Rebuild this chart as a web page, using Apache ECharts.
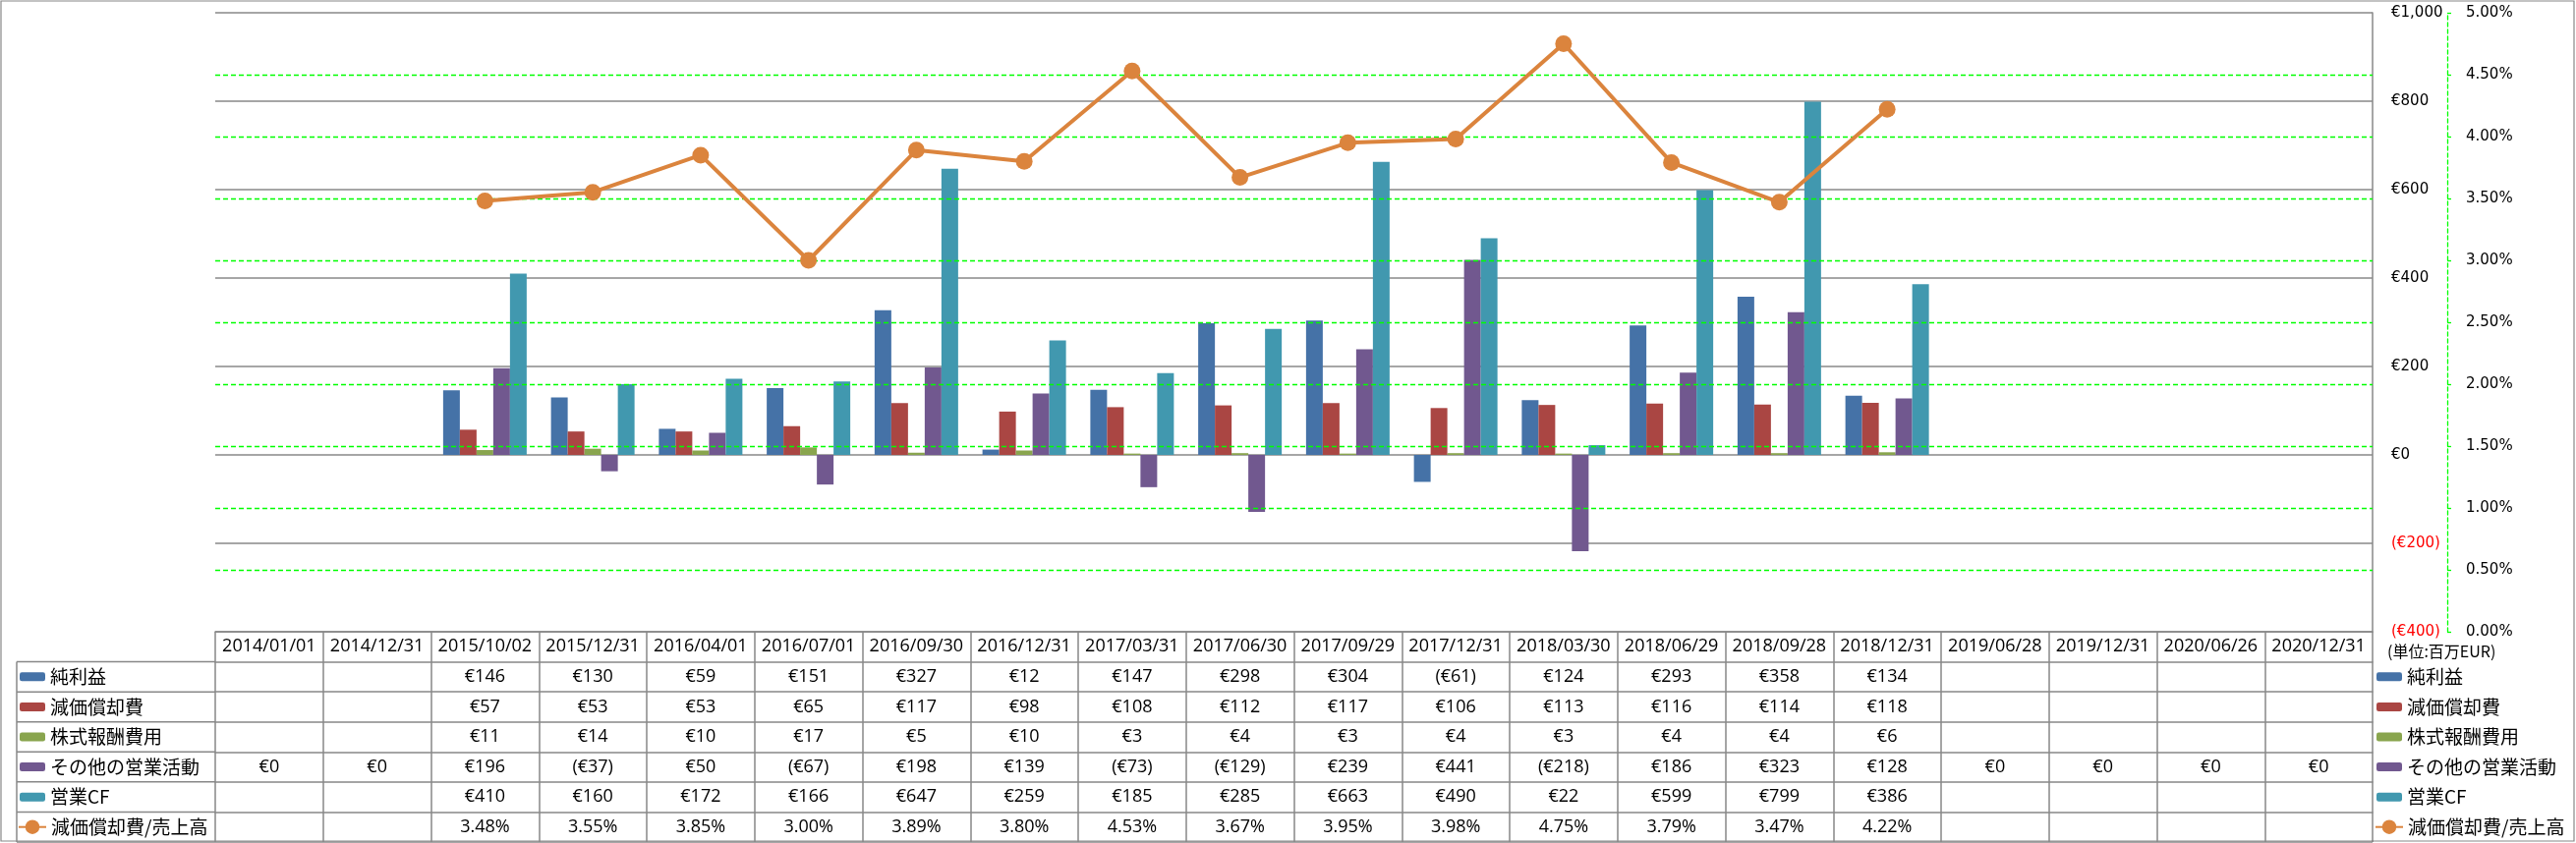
<!DOCTYPE html>
<html>
<head>
<meta charset="utf-8">
<script src="https://cdn.jsdelivr.net/npm/echarts@6/dist/echarts.min.js"></script>
<style>
html,body{margin:0;padding:0;background:#fff;}
#chart{width:2621px;height:858px;}
</style>
</head>
<body>
<div id="chart"></div>
<script>
// ---------- DATA ----------
const categories = ['2014/01/01','2014/12/31','2015/10/02','2015/12/31','2016/04/01','2016/07/01','2016/09/30','2016/12/31','2017/03/31','2017/06/30','2017/09/29','2017/12/31','2018/03/30','2018/06/29','2018/09/28','2018/12/31','2019/06/28','2019/12/31','2020/06/26','2020/12/31'];
const netIncome    = [null,null,146,130,59,151,327,12,147,298,304,-61,124,293,358,134,null,null,null,null];
const depreciation = [null,null,57,53,53,65,117,98,108,112,117,106,113,116,114,118,null,null,null,null];
const stockComp    = [null,null,11,14,10,17,5,10,3,4,3,4,3,4,4,6,null,null,null,null];
const otherOps     = [0,0,196,-37,50,-67,198,139,-73,-129,239,441,-218,186,323,128,0,0,0,0];
const operatingCF  = [null,null,410,160,172,166,647,259,185,285,663,490,22,599,799,386,null,null,null,null];
const depRatio     = [null,null,3.48,3.55,3.85,3.00,3.89,3.80,4.53,3.67,3.95,3.98,4.75,3.79,3.47,4.22,null,null,null,null];
const seriesNames  = ['純利益','減価償却費','株式報酬費用','その他の営業活動','営業CF','減価償却費/売上高'];
const leftTicks    = [-400,-200,0,200,400,600,800,1000];
const pctGridLines = [0.5,1.0,1.5,2.0,2.5,3.0,3.5,4.0,4.5];
const unitLabel    = '(単位:百万EUR)';

// ---------- STYLE / LAYOUT ----------
const colors = ['#4572A7','#AA4643','#89A54E','#71588F','#4198AF','#DB843D'];
const GRAY = '#888888';
const GREEN = '#00FF00';
const W = 2621, H = 858;
const GL = 219, GR = 2414, GT = 13, GB = 643;
const ROW_H = 30.57;
const TABLE_FONT = {fontFamily:'Open Sans, Noto Sans, sans-serif', fontSize:18, color:'#000'};
const CJK = 'Noto Sans CJK JP';

const rows = [netIncome, depreciation, stockComp, otherOps, operatingCF, depRatio];

function fmtMoney(v){
  if (v === null || v === undefined) return '';
  return v < 0 ? '(€' + Math.abs(v) + ')' : '€' + v;
}
function fmtPct(v){
  if (v === null || v === undefined) return '';
  return v.toFixed(2) + '%';
}
function fmtAxisMoney(v){
  v = Number(v);
  const s = Math.abs(v).toLocaleString('en-US');
  return v < 0 ? '(€' + s + ')' : '€' + s;
}

const xAxes = [];
xAxes.push({
  type:'category', data:categories, position:'bottom', offset:0, gridIndex:0,
  axisLine:{show:true, onZero:false, lineStyle:{color:GRAY, width:1.5}},
  axisTick:{show:true, length:ROW_H, lineStyle:{color:GRAY, width:1.5}},
  axisLabel:{interval:0, margin:ROW_H/2, verticalAlign:'middle', ...TABLE_FONT},
  splitLine:{show:false}, splitArea:{show:false}
});
rows.forEach((r, i) => {
  const isPct = (i === rows.length - 1);
  xAxes.push({
    type:'category', data:categories, position:'bottom', offset:ROW_H*(i+1), gridIndex:0,
    axisLine:{show:true, onZero:false, lineStyle:{color:GRAY, width:1.5}},
    axisTick:{show:true, length:ROW_H, lineStyle:{color:GRAY, width:1.5}},
    axisLabel:{interval:0, margin:ROW_H/2, verticalAlign:'middle', ...TABLE_FONT,
      formatter:(val, idx) => isPct ? fmtPct(r[idx]) : fmtMoney(r[idx])},
    splitLine:{show:false}, splitArea:{show:false}
  });
});

const legends = [];
seriesNames.forEach((name, i) => {
  const cy = GB + ROW_H*(i+1) + ROW_H/2;
  const isLine = (i === seriesNames.length - 1);
  const base = {
    data:[name], orient:'horizontal', padding:0, itemGap:0,
    itemWidth: isLine ? 28 : 26, itemHeight: isLine ? 18 : 9,
    selectedMode:false,
    textStyle:{fontFamily:CJK, fontSize:19, lineHeight:20, color:'#000'},
    top: cy - 10
  };
  legends.push({...base, left: isLine ? 18 : 20});
  legends.push({...base, left: isLine ? 2416 : 2418});
});

const graphics = [];
for (let i = 0; i <= 6; i++) {
  const y = GB + ROW_H*(i+1);
  graphics.push({type:'line', shape:{x1:17, y1:y, x2:(i===6?GR:GL), y2:y}, style:{stroke:GRAY, lineWidth:1.5}, z:10});
}
graphics.push({type:'line', shape:{x1:17, y1:GB+ROW_H, x2:17, y2:GB+ROW_H*7}, style:{stroke:GRAY, lineWidth:1.5}, z:10});
graphics.push({type:'line', shape:{x1:GR, y1:GB+ROW_H*7-2, x2:GR, y2:H-1}, style:{stroke:GRAY, lineWidth:1.5}, z:10});
graphics.push({type:'rect', shape:{x:1, y:1, width:W-3, height:H-3}, style:{fill:'none', stroke:GRAY, lineWidth:1.2}, z:10});
graphics.push({type:'text', left:2429, top:655, style:{text:unitLabel, fontFamily:CJK, fontSize:16, fill:'#000'}});

const barData = [netIncome, depreciation, stockComp, otherOps, operatingCF];
const series = [];
// helper series carrying the green percentage grid lines (behind bars)
series.push({
  name:'_pctGrid', type:'line', data:[], xAxisIndex:0, yAxisIndex:1, z:1, silent:true,
  markLine:{silent:true, symbol:'none', label:{show:false}, animation:false,
    lineStyle:{color:GREEN, width:1.3, type:[5,3]},
    emphasis:{disabled:true},
    data: pctGridLines.map(v => ({yAxis:v}))}
});
barData.forEach((d, i) => series.push({
  name: seriesNames[i], type:'bar', data:d, xAxisIndex:0, yAxisIndex:0,
  barWidth:17, barGap:'0%', itemStyle:{color:colors[i]}, z:3
}));
series.push({
  name: seriesNames[5], type:'line', data:depRatio, xAxisIndex:0, yAxisIndex:1,
  symbol:'circle', symbolSize:17, color:colors[5],
  lineStyle:{color:colors[5], width:4}, itemStyle:{color:colors[5]}, z:5
});

const option = {
  animation:false,
  backgroundColor:'#fff',
  grid:{left:GL, top:GT, width:GR-GL, height:GB-GT, show:false},
  legend: legends,
  xAxis: xAxes,
  yAxis:[
    {type:'value', position:'right', min:leftTicks[0], max:leftTicks[leftTicks.length-1], interval:200,
     axisLine:{show:true, onZero:false, lineStyle:{color:GRAY, width:1.5}},
     axisTick:{show:false},
     axisLabel:{margin:19, fontFamily:'DejaVu Sans', fontSize:15,
       color:(v) => Number(v) < 0 ? '#FF0000' : '#000', formatter:fmtAxisMoney},
     splitLine:{show:true, lineStyle:{color:GRAY, width:1.5}}, splitArea:{show:false}},
    {type:'value', position:'right', offset:76, min:0, max:5, interval:0.5,
     axisLine:{show:true, onZero:false, lineStyle:{color:GREEN, width:1.3, type:[4,3]}},
     axisTick:{show:true, inside:false, length:4, lineStyle:{color:GREEN, width:1.3}},
     axisLabel:{margin:19, fontFamily:'DejaVu Sans', fontSize:15, color:'#000', formatter:(v)=>Number(v).toFixed(2)+'%'},
     splitLine:{show:false}, splitArea:{show:false}}
  ],
  graphic: graphics,
  series: series
};

const chart = echarts.init(document.getElementById('chart'), null, {renderer:'canvas'});
chart.setOption(option);
</script>
</body>
</html>
